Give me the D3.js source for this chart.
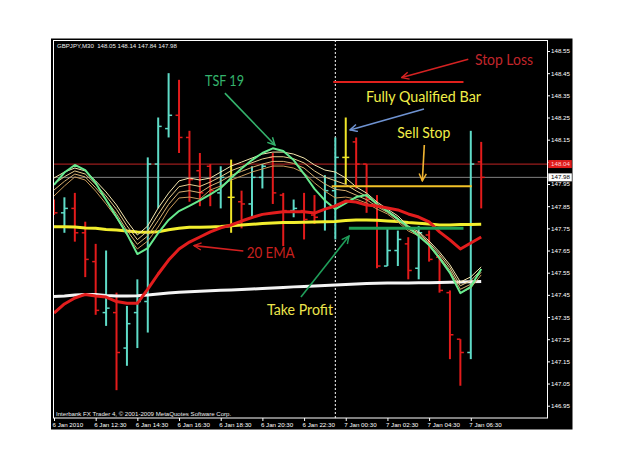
<!DOCTYPE html>
<html>
<head>
<meta charset="utf-8">
<script src="https://cdnjs.cloudflare.com/ajax/libs/d3/7.8.5/d3.min.js"></script>
<style>
  body { margin: 0; background: #fff; }
  svg { display: block; }
  text { font-family: "Liberation Sans", Arial, sans-serif; }
  .note { font-family: Lato, "Open Sans", sans-serif; }
</style>
</head>
<body>
<svg width="625" height="469"></svg>
<script>
// GBPJPY M30, 6 Jan 10:30 .. 7 Jan 07:00
const opens  = [147.86, 147.82, 147.84, 147.73, 147.60, 147.37, 147.37, 147.21, 147.37, 147.42, 148.04, 148.20, 148.26, 148.16, 148.01, 148.03, 147.91, 147.89, 147.87, 147.86, 147.98, 148.07, 147.90, 147.83, 147.83, 147.81, 147.78, 147.92, 148.07, 148.14, 148.04, 147.86, 147.58, 147.65, 147.68, 147.57, 147.72, 147.62, 147.46, 147.25, 147.19, 148.05];
const highs  = [147.88, 147.89, 147.91, 147.78, 147.68, 147.65, 147.46, 147.40, 147.52, 148.07, 148.25, 148.45, 148.42, 148.19, 148.09, 148.04, 148.03, 148.06, 147.92, 148.03, 148.04, 148.09, 147.91, 147.88, 147.91, 147.90, 147.99, 148.16, 148.25, 148.16, 148.04, 147.90, 147.75, 147.74, 147.71, 147.76, 147.74, 147.63, 147.47, 147.25, 148.19, 148.14];
const lows   = [147.81, 147.73, 147.69, 147.53, 147.36, 147.31, 147.02, 147.13, 147.21, 147.28, 147.84, 148.16, 148.09, 147.87, 147.85, 147.85, 147.84, 147.73, 147.75, 147.80, 147.93, 147.86, 147.67, 147.80, 147.70, 147.77, 147.74, 147.70, 147.95, 147.93, 147.82, 147.57, 147.58, 147.58, 147.52, 147.52, 147.60, 147.46, 147.16, 147.04, 147.16, 147.84];
const closes = [147.82, 147.84, 147.73, 147.61, 147.38, 147.39, 147.19, 147.32, 147.42, 148.04, 148.21, 148.26, 148.16, 147.97, 147.91, 147.92, 147.98, 147.89, 147.86, 147.98, 148.03, 147.91, 147.83, 147.84, 147.79, 147.80, 147.92, 148.07, 148.07, 148.04, 147.88, 147.58, 147.65, 147.70, 147.56, 147.73, 147.61, 147.47, 147.27, 147.19, 148.04, 147.98];
const qualified = [17, 28];

const tsf19 = [147.946, 148.002, 148.036, 148.013, 147.955, 147.878, 147.801, 147.725, 147.634, 147.661, 147.729, 147.788, 147.828, 147.851, 147.876, 147.903, 147.932, 147.977, 148.020, 148.058, 148.090, 148.111, 148.099, 148.058, 147.995, 147.928, 147.876, 147.837, 147.864, 147.891, 147.900, 147.860, 147.828, 147.792, 147.756, 147.716, 147.675, 147.616, 147.549, 147.458, 147.486, 147.567];
const ribbonA = [147.977, 148.004, 148.022, 148.009, 147.964, 147.914, 147.855, 147.783, 147.720, 147.761, 147.842, 147.909, 147.964, 147.977, 147.968, 147.977, 148.004, 148.031, 148.049, 148.067, 148.085, 148.094, 148.094, 148.085, 148.067, 148.036, 148.013, 148.004, 147.977, 147.937, 147.909, 147.869, 147.837, 147.806, 147.761, 147.734, 147.693, 147.643, 147.585, 147.508, 147.531, 147.576];
const ribbonB = [147.950, 147.983, 148.009, 147.995, 147.949, 147.896, 147.836, 147.762, 147.699, 147.738, 147.813, 147.884, 147.938, 147.948, 147.939, 147.959, 147.983, 148.010, 148.028, 148.046, 148.063, 148.073, 148.073, 148.064, 148.045, 148.009, 147.981, 147.965, 147.948, 147.919, 147.894, 147.858, 147.830, 147.797, 147.753, 147.728, 147.685, 147.633, 147.573, 147.491, 147.514, 147.564];
const ribbonC = [147.923, 147.962, 147.995, 147.982, 147.933, 147.878, 147.816, 147.741, 147.678, 147.716, 147.785, 147.858, 147.913, 147.920, 147.911, 147.941, 147.962, 147.989, 148.007, 148.025, 148.040, 148.052, 148.052, 148.043, 148.022, 147.982, 147.950, 147.926, 147.920, 147.900, 147.879, 147.848, 147.822, 147.788, 147.746, 147.722, 147.678, 147.622, 147.561, 147.475, 147.498, 147.552];
const ribbonD = [147.896, 147.941, 147.982, 147.968, 147.918, 147.860, 147.797, 147.720, 147.657, 147.693, 147.756, 147.833, 147.887, 147.891, 147.882, 147.923, 147.941, 147.968, 147.986, 148.004, 148.018, 148.031, 148.031, 148.022, 148.000, 147.955, 147.918, 147.887, 147.891, 147.882, 147.864, 147.837, 147.815, 147.779, 147.738, 147.716, 147.670, 147.612, 147.549, 147.458, 147.481, 147.540];
const ema20 = [147.368, 147.409, 147.436, 147.452, 147.445, 147.440, 147.420, 147.412, 147.412, 147.476, 147.544, 147.607, 147.657, 147.688, 147.711, 147.734, 147.752, 147.765, 147.783, 147.799, 147.813, 147.819, 147.825, 147.825, 147.825, 147.819, 147.837, 147.851, 147.873, 147.869, 147.855, 147.851, 147.842, 147.833, 147.815, 147.801, 147.779, 147.734, 147.698, 147.657, 147.684, 147.711];
const smaYellow = [147.757, 147.757, 147.756, 147.752, 147.750, 147.745, 147.743, 147.738, 147.734, 147.732, 147.735, 147.744, 147.750, 147.755, 147.755, 147.756, 147.758, 147.762, 147.765, 147.768, 147.772, 147.774, 147.776, 147.776, 147.777, 147.779, 147.780, 147.781, 147.785, 147.788, 147.788, 147.786, 147.783, 147.781, 147.776, 147.773, 147.770, 147.765, 147.765, 147.767, 147.767, 147.768];
const smaWhite = [147.443, 147.445, 147.449, 147.452, 147.452, 147.447, 147.445, 147.445, 147.446, 147.449, 147.454, 147.458, 147.462, 147.464, 147.466, 147.468, 147.471, 147.472, 147.474, 147.476, 147.479, 147.481, 147.483, 147.486, 147.488, 147.490, 147.492, 147.495, 147.497, 147.499, 147.501, 147.502, 147.503, 147.504, 147.504, 147.505, 147.505, 147.506, 147.507, 147.508, 147.509, 147.510];

const timeLabels = ['6 Jan 2010', '6 Jan 12:30', '6 Jan 14:30', '6 Jan 16:30', '6 Jan 18:30', '6 Jan 20:30', '6 Jan 22:30', '7 Jan 00:30', '7 Jan 02:30', '7 Jan 04:30', '7 Jan 06:30'];
const timeTickBars = [0, 4, 8, 12, 16, 20, 24, 28, 32, 36, 40];
const priceTicks = [148.55, 148.45, 148.35, 148.25, 148.15, 148.05, 147.95, 147.85, 147.75, 147.65, 147.55, 147.45, 147.35, 147.25, 147.15, 147.05, 146.95];

const lastPrice = 147.98;
const hLinePrice = 148.04;
const separatorBar = 27;  // 7 Jan 00:00

// trade levels: price, from bar, to bar
const stopLoss = [148.41, 26.8, 39.3];
const sellStop = [147.94, 26.65, 40.1];
const takeProfit = [147.75, 28.3, 39.3];

const svg = d3.select('svg');

const x = d3.scaleLinear().domain([0, 41]).range([54, 481.2]);
const y = d3.scaleLinear().domain([146.95, 148.55]).range([405.7, 51]);

// chart background + frame
svg.append('rect').attr('x', 51).attr('y', 38.5).attr('width', 521.5).attr('height', 391).attr('fill', '#000');
svg.append('clipPath').attr('id', 'clip')
  .append('rect').attr('x', 54).attr('y', 41).attr('width', 493).attr('height', 377);
svg.append('rect').attr('x', 53.5).attr('y', 40.5).attr('width', 494).attr('height', 377.5)
  .attr('fill', 'none').attr('stroke', '#fff').attr('stroke-width', 1);

const plot = svg.append('g').attr('clip-path', 'url(#clip)');

// price lines
plot.append('line').attr('x1', 53).attr('x2', 547)
  .attr('y1', y(hLinePrice)).attr('y2', y(hLinePrice))
  .attr('stroke', '#9a1c1c').attr('stroke-width', 1.2);
plot.append('line').attr('x1', 53).attr('x2', 547)
  .attr('y1', y(lastPrice)).attr('y2', y(lastPrice))
  .attr('stroke', '#808080').attr('stroke-width', 1);

// period separator
plot.append('line').attr('x1', x(separatorBar)).attr('x2', x(separatorBar))
  .attr('y1', 40).attr('y2', 418)
  .attr('stroke', '#fff').attr('stroke-width', 1).attr('stroke-dasharray', '2,2');

// OHLC bars
const bars = opens.map((o, i) => ({
  i: i, o: o, h: highs[i], l: lows[i], c: closes[i],
  col: qualified.includes(i) ? '#f0e628' : (closes[i] >= o ? '#5fdcc8' : '#e31b1b')
}));

const gBars = plot.selectAll('g.bar').data(bars).join('g')
  .attr('class', 'bar').attr('stroke', d => d.col);
gBars.append('line')
  .attr('x1', d => x(d.i)).attr('x2', d => x(d.i))
  .attr('y1', d => y(d.h)).attr('y2', d => y(d.l))
  .attr('stroke-width', 2);
gBars.append('line')
  .attr('x1', d => x(d.i) - 3.5).attr('x2', d => x(d.i))
  .attr('y1', d => y(d.o)).attr('y2', d => y(d.o))
  .attr('stroke-width', 1.5);
gBars.append('line')
  .attr('x1', d => x(d.i)).attr('x2', d => x(d.i) + 3.5)
  .attr('y1', d => y(d.c)).attr('y2', d => y(d.c))
  .attr('stroke-width', 1.5);

// indicator lines
const line = d3.line().x((d, i) => x(i)).y(d => y(d));
const series = [
  [smaWhite, '#f4f4f4', 3],
  [smaYellow, '#f2ee2e', 3],
  [ribbonD, '#c89a5a', 1],
  [ribbonC, '#d8b273', 1],
  [ribbonB, '#e8cc8c', 1],
  [ribbonA, '#f6e8b0', 1],
  [tsf19, '#66ea8e', 2],
  [ema20, '#e21d1d', 3]
];
series.forEach(s => {
  plot.append('path').datum(s[0]).attr('d', line)
    .attr('fill', 'none').attr('stroke', s[1]).attr('stroke-width', s[2])
    .attr('stroke-linejoin', 'round');
});

// trade levels
function level(lv, col, w) {
  plot.append('line').attr('x1', x(lv[1])).attr('x2', x(lv[2]))
    .attr('y1', y(lv[0])).attr('y2', y(lv[0]))
    .attr('stroke', col).attr('stroke-width', w);
}
level(stopLoss, '#e0201c', 2);
level(sellStop, '#f2c228', 2);
level(takeProfit, '#1f9e55', 3);

// axes
const yAxis = svg.append('g').attr('transform', 'translate(547,0)')
  .call(d3.axisRight(y).tickValues(priceTicks).tickSize(3).tickPadding(1).tickFormat(d3.format('.2f')));
const xAxis = svg.append('g').attr('transform', 'translate(0,418)')
  .call(d3.axisBottom(x).tickValues(timeTickBars).tickSize(3).tickPadding(1.5)
    .tickFormat((d, i) => timeLabels[i]));
[yAxis, xAxis].forEach(a => {
  a.select('.domain').remove();
  a.selectAll('line').attr('stroke', '#fff');
  a.selectAll('text').attr('fill', '#fff').style('font-size', '6.2px').style('font-family', '"Liberation Sans", Arial, sans-serif');
});
xAxis.selectAll('text').attr('text-anchor', 'start').attr('dx', -2);

// price label boxes
function priceBox(p, bg, fg) {
  svg.append('rect').attr('x', 548.3).attr('y', y(p) - 4).attr('width', 23.5).attr('height', 8).attr('fill', bg);
  svg.append('text').attr('x', 551).attr('y', y(p)).attr('dy', '0.34em')
    .attr('fill', fg).style('font-size', '6.2px').text(d3.format('.2f')(p));
}
priceBox(hLinePrice, '#e01b1b', '#ffd0d0');
priceBox(lastPrice, '#fff', '#000');

// header / footer
svg.append('text').attr('x', 57).attr('y', 47.6).attr('fill', '#eee').style('font-size', '6.1px')
  .attr('xml:space', 'preserve')
  .text('GBPJPY,M30  ' + [opens[41], highs[41], lows[41], closes[41]].map(d3.format('.2f')).join(' '));
svg.append('text').attr('x', 56).attr('y', 415.5).attr('fill', '#eee').style('font-size', '6.1px')
  .text('Interbank FX Trader 4, \u00a9 2001-2009 MetaQuotes Software Corp.');

// annotations: [text, bar, price, width, colour, arrow from, arrow to, arrow colour]
const notes = [
  ['TSF 19', 14.49, 148.39, 39, '#34b36c', [16.4, 148.36], [21.2, 148.126], '#34b36c'],
  ['Stop Loss', 40.4, 148.487, 58, '#c2262b', [39.76, 148.513], [33.37, 148.43], '#d42222'],
  ['Fully Qualified Bar', 29.94, 148.321, 115, '#f2ee48', [35.51, 148.288], [28.41, 148.194], '#6f93d2'],
  ['Sell Stop', 32.95, 148.156, 53, '#f2ee48', [35.54, 148.126], [35.35, 147.964], '#f0b432'],
  ['20 EMA', 18.49, 147.615, 48, '#c8201e', [18.17, 147.648], [13.44, 147.672], '#d42020'],
  ['Take Profit', 20.44, 147.359, 66, '#ece44c', [23.7, 147.44], [28.31, 147.715], '#1f9e5a']
];

const defs = svg.append('defs');
notes.forEach((n, k) => {
  defs.append('marker').attr('id', 'arr' + k)
    .attr('viewBox', '0 0 10 10').attr('refX', 9).attr('refY', 5)
    .attr('markerWidth', 9).attr('markerHeight', 9).attr('markerUnits', 'userSpaceOnUse')
    .attr('orient', 'auto')
    .append('path').attr('d', 'M1,1 L9,5 L1,9').attr('fill', 'none')
    .attr('stroke', n[7]).attr('stroke-width', 1.6);

  svg.append('line')
    .attr('x1', x(n[5][0])).attr('y1', y(n[5][1]))
    .attr('x2', x(n[6][0])).attr('y2', y(n[6][1]))
    .attr('stroke', n[7]).attr('stroke-width', 1.6)
    .attr('marker-end', 'url(#arr' + k + ')');

  svg.append('text').attr('class', 'note')
    .attr('x', x(n[1])).attr('y', y(n[2]))
    .attr('fill', n[4]).style('font-size', '15.5px')
    .attr('textLength', n[3]).attr('lengthAdjust', 'spacingAndGlyphs')
    .text(n[0]);
});
</script>
</body>
</html>
